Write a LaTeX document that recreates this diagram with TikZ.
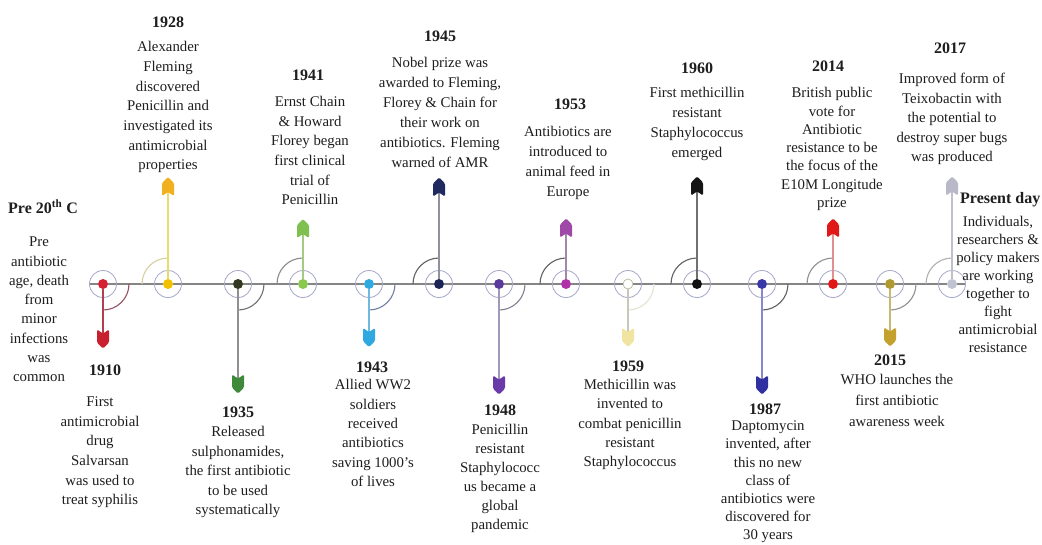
\documentclass[tikz,border=0pt]{standalone}
\usepackage{fontspec}
\setmainfont{Liberation Serif}
\definecolor{txtc}{HTML}{1E1E1E}
\definecolor{linec}{HTML}{858585}
\definecolor{ringc}{HTML}{A4A6C8}
% dot / stem / arc / marker colours
\definecolor{dA}{HTML}{D42030}\definecolor{sA}{HTML}{B04050}\definecolor{aA}{HTML}{965060}\definecolor{mA}{HTML}{C8202E}
\definecolor{dB}{HTML}{F2C200}\definecolor{sB}{HTML}{E8DC70}\definecolor{aB}{HTML}{D6D0A0}\definecolor{mB}{HTML}{F0B020}
\definecolor{dC}{HTML}{333820}\definecolor{sC}{HTML}{909090}\definecolor{aC}{HTML}{707070}\definecolor{mC}{HTML}{3E8A3A}
\definecolor{dD}{HTML}{8CC850}\definecolor{sD}{HTML}{A8C888}\definecolor{aD}{HTML}{8A8A8A}\definecolor{mD}{HTML}{80C050}
\definecolor{dE}{HTML}{30A8E0}\definecolor{sE}{HTML}{70B8E0}\definecolor{aE}{HTML}{7080A0}\definecolor{mE}{HTML}{30A8E0}
\definecolor{dF}{HTML}{1C2455}\definecolor{sF}{HTML}{9090A0}\definecolor{aF}{HTML}{606060}\definecolor{mF}{HTML}{1E2A60}
\definecolor{dG}{HTML}{5A3A9A}\definecolor{sG}{HTML}{A098B8}\definecolor{aG}{HTML}{808090}\definecolor{mG}{HTML}{6A3AA8}
\definecolor{dH}{HTML}{B030A8}\definecolor{sH}{HTML}{A088A8}\definecolor{aH}{HTML}{606060}\definecolor{mH}{HTML}{A048A8}
\definecolor{dI}{HTML}{BEBEA0}\definecolor{sI}{HTML}{C8C8B8}\definecolor{aI}{HTML}{E4E4D4}\definecolor{mI}{HTML}{F0E4A0}
\definecolor{dJ}{HTML}{101010}\definecolor{sJ}{HTML}{707070}\definecolor{aJ}{HTML}{606060}\definecolor{mJ}{HTML}{151515}
\definecolor{dK}{HTML}{3838A8}\definecolor{sK}{HTML}{8888CC}\definecolor{aK}{HTML}{606060}\definecolor{mK}{HTML}{3030A0}
\definecolor{dL}{HTML}{E01818}\definecolor{sL}{HTML}{E09090}\definecolor{aL}{HTML}{909090}\definecolor{mL}{HTML}{E01818}
\definecolor{dM}{HTML}{B09A30}\definecolor{sM}{HTML}{C8B870}\definecolor{aM}{HTML}{909090}\definecolor{mM}{HTML}{C4A02C}
\definecolor{dN}{HTML}{C0C4D0}\definecolor{sN}{HTML}{C0C0C8}\definecolor{aN}{HTML}{B0B0B0}\definecolor{mN}{HTML}{B8B8C8}
\newcommand\yearlbl[4]{\node[yr] (#1) at (#2,{#3+5.5}) {#4};}
\newcommand\blk[5]{\node[txt=#4] (#1) at (#2,{#3-0.7*#4+4.5}) {\strut #5};}
\newcommand\upev[4]{% name, x, colour letter, marker y
  \draw[ring] (d#1.center) circle[radius=13.5];
  \draw[arcst, draw=a#3] ([shift={(-26,0)}]d#1.center) arc[start angle=180, end angle=270, radius=26];
  \coordinate (m#1) at (#2,#4);
  \draw[stem, draw=s#3] (d#1) -- (m#1);
  \fill[fill=m#3, rounded corners=1.3pt, shift={(m#1)}] (0,-9.5) -- (6,-3.5) -- (6,9.5) -- (0,5.5) -- (-6,9.5) -- (-6,-3.5) -- cycle;}
\newcommand\downev[4]{% name, x, colour letter, marker y
  \draw[ring] (d#1.center) circle[radius=13.5];
  \draw[arcst, draw=a#3] ([shift={(26,0)}]d#1.center) arc[start angle=0, end angle=90, radius=26];
  \coordinate (m#1) at (#2,#4);
  \draw[stem, draw=s#3] (d#1) -- (m#1);
  \fill[fill=m#3, rounded corners=1.3pt, shift={(m#1)}] (0,9.5) -- (6,3.5) -- (6,-9.5) -- (0,-5.5) -- (-6,-9.5) -- (-6,3.5) -- cycle;}
\begin{document}
\begin{tikzpicture}[x=1pt,y=-1pt,
  dot/.style={circle, inner sep=0pt, minimum size=10pt},
  ring/.style={draw=ringc, line width=0.8pt},
  arcst/.style={line width=1.1pt},
  stem/.style={line width=1.3pt},
  tline/.style={draw=linec, line width=2.2pt},
  txt/.style={font=\fontsize{14.8}{#1}\selectfont, align=center, inner sep=0pt, anchor=north, text=txtc},
  txt/.default=19.5,
  yr/.style={font=\fontsize{16}{19}\selectfont\bfseries, inner sep=0pt, anchor=base, text=txtc}]
\useasboundingbox[fill=white] (0,0) rectangle (1042,544);
% dots
\node[dot, fill=dA] (d1910) at (103,284) {};
\node[dot, fill=dB] (d1928) at (168,284) {};
\node[dot, fill=dC] (d1935) at (238,284) {};
\node[dot, fill=dD] (d1941) at (303,284) {};
\node[dot, fill=dE] (d1943) at (369,284) {};
\node[dot, fill=dF] (d1945) at (439,284) {};
\node[dot, fill=dG] (d1948) at (499,284) {};
\node[dot, fill=dH] (d1953) at (566,284) {};
\node[dot, fill=white, draw=dI, line width=0.8pt] (d1959) at (628,284) {};
\node[dot, fill=dJ] (d1960) at (697,284) {};
\node[dot, fill=dK] (d1987) at (762,284) {};
\node[dot, fill=dL] (d2014) at (833,284) {};
\node[dot, fill=dM] (d2015) at (890,284) {};
\node[dot, fill=dN] (dnow) at (952,284) {};
% timeline
\coordinate (tl0) at (89,284);
\coordinate (tl1) at (966,284);
\draw[tline] (tl0) -- (d1910) -- (d1928) -- (d1935) -- (d1941) -- (d1943) -- (d1945) -- (d1948) -- (d1953) -- (d1959) -- (d1960) -- (d1987) -- (d2014) -- (d2015) -- (dnow) -- (tl1);
% milestones
\downev{1910}{103}{A}{339}
\upev{1928}{168}{B}{186.5}
\downev{1935}{238}{C}{384}
\upev{1941}{303}{D}{228.5}
\downev{1943}{369}{E}{337.5}
\upev{1945}{439}{F}{187}
\downev{1948}{499}{G}{385}
\upev{1953}{566}{H}{228}
\downev{1959}{628}{I}{337.5}
\upev{1960}{697}{J}{186}
\downev{1987}{762}{K}{385}
\upev{2014}{833}{L}{228}
\downev{2015}{890}{M}{337}
\upev{now}{952}{N}{186}
% texts above
\node[yr, anchor=base west] (ypre) at (8,213.5) {Pre 20\textsuperscript{th} C};
\blk{tpre}{39}{242}{19.3}{Pre\\antibiotic\\age, death\\from\\minor\\infections\\was\\common}
\yearlbl{y1928}{168}{22}{1928}
\blk{t1928}{168}{47}{19.7}{Alexander\\Fleming\\discovered\\Penicillin and\\investigated its\\antimicrobial\\properties}
\yearlbl{y1941}{308}{75}{1941}
\blk{t1941}{310}{102}{19.6}{Ernst Chain\\\& Howard\\Florey began\\first clinical\\trial of\\Penicillin}
\yearlbl{y1945}{440}{36}{1945}
\blk{t1945}{440}{63}{20}{Nobel prize was\\awarded to Fleming,\\Florey \& Chain for\\their work on\\antibiotics. Fleming\\warned of AMR}
\yearlbl{y1953}{570}{104}{1953}
\blk{t1953}{568}{132}{20}{Antibiotics are\\introduced to\\animal feed in\\Europe}
\yearlbl{y1960}{697}{68}{1960}
\blk{t1960}{697}{93}{20}{First methicillin\\resistant\\Staphylococcus\\emerged}
\yearlbl{y2014}{828}{66}{2014}
\blk{t2014}{832}{93}{18.3}{British public\\vote for\\Antibiotic\\resistance to be\\the focus of the\\E10M Longitude\\prize}
\yearlbl{y2017}{950}{48}{2017}
\blk{t2017}{952}{79}{19.5}{Improved form of\\Teixobactin with\\the potential to\\destroy super bugs\\was produced}
\node[yr, anchor=base west] (ynow) at (960,203.5) {Present day};
\blk{tnow}{998}{222}{18}{Individuals,\\researchers \&\\policy makers\\are working\\together to\\fight\\antimicrobial\\resistance}
% texts below
\yearlbl{y1910}{105}{370}{1910}
\blk{t1910}{100}{402}{19.6}{First\\antimicrobial\\drug\\Salvarsan\\was used to\\treat syphilis}
\yearlbl{y1935}{238}{412}{1935}
\blk{t1935}{238}{432}{19.5}{Released\\sulphonamides,\\the first antibiotic\\to be used\\systematically}
\yearlbl{y1943}{372}{367}{1943}
\blk{t1943}{373}{385}{19.4}{Allied WW2\\soldiers\\received\\antibiotics\\saving 1000's\\of lives}
\yearlbl{y1948}{500}{410}{1948}
\blk{t1948}{500}{430}{19}{Penicillin\\resistant\\Staphylococc\\us became a\\global\\pandemic}
\yearlbl{y1959}{628}{366}{1959}
\blk{t1959}{630}{385}{19.25}{Methicillin was\\invented to\\combat penicillin\\resistant\\Staphylococcus}
\yearlbl{y1987}{765}{409}{1987}
\blk{t1987}{768}{426}{18.2}{Daptomycin\\invented, after\\this no new\\class of\\antibiotics were\\discovered for\\30 years}
\yearlbl{y2015}{890}{360}{2015}
\blk{t2015}{897}{380}{21}{WHO launches the\\first antibiotic\\awareness week}
\end{tikzpicture}
\end{document}
